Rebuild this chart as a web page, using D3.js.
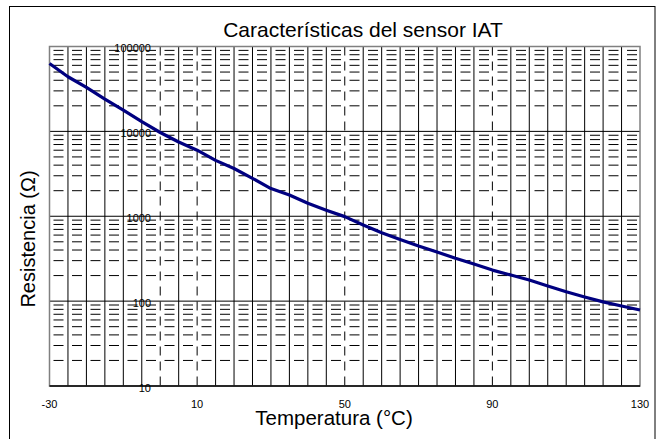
<!DOCTYPE html>
<html>
<head>
<meta charset="utf-8">
<script src="https://cdn.jsdelivr.net/npm/d3@7"></script>
<style>
  html, body { margin: 0; padding: 0; background: #fff; }
  svg { display: block; font-family: "Liberation Sans", Arial, sans-serif; }
</style>
</head>
<body>
<svg id="chart" width="662" height="439"></svg>
<script>
// ---- data ----
const temperatures = [-30, -25, -20, -15, -10, -5, 0, 5, 10, 15, 20, 25, 30, 35, 40, 45, 50, 55, 60, 65, 70, 75, 80, 85, 90, 95, 100, 105, 110, 115, 120, 125, 130];
const resistances  = [63000, 44000, 33000, 24000, 17800, 13000, 9700, 7500, 6000, 4550, 3650, 2800, 2120, 1780, 1420, 1180, 990, 790, 640, 532, 446, 379, 320, 274, 232, 203, 177, 151, 129, 112, 98, 87.5, 78.5];
const xTickLabels = [-30, 10, 50, 90, 130];
const yTickLabels = [10, 100, 1000, 10000, 100000];
const dashedTemps = [0, 10, 50, 90];
const chartTitle = "Características del sensor IAT";
const xTitle = "Temperatura (°C)";
const yTitle = "Resistencia (Ω)";

const svg = d3.select("#chart");
const pLeft = 49.5, pRight = 640, pTop = 46.5, pBottom = 386;

const x = d3.scaleLinear().domain([-30, 130]).range([pLeft, pRight]);
const y = d3.scaleLog().domain([10, 100000]).range([pBottom, pTop]);

// outer frame
svg.append("rect")
  .attr("x", 9.5).attr("y", 6.5).attr("width", 645.5).attr("height", 440)
  .attr("fill", "#fff").attr("stroke", "#000").attr("stroke-width", 1);

// title
svg.append("text").attr("x", 363).attr("y", 37).attr("text-anchor", "middle")
  .attr("font-size", 21).attr("fill", "#000").text(chartTitle);

const grid = svg.append("g");

// horizontal minor gridlines (dashed)
const minorVals = [];
for (let d = 10; d < 100000; d *= 10) for (let k = 2; k <= 9; k++) minorVals.push(d * k);
grid.selectAll("line.hmin").data(minorVals).enter().append("line")
  .attr("x1", pLeft).attr("x2", pRight)
  .attr("y1", d => y(d)).attr("y2", d => y(d))
  .attr("stroke", "#000").attr("stroke-width", 1)
  .attr("stroke-dasharray", "10,8.5").attr("stroke-dashoffset", -4);

// horizontal major gridlines
grid.selectAll("line.hmaj").data([100, 1000, 10000]).enter().append("line")
  .attr("x1", pLeft).attr("x2", pRight)
  .attr("y1", d => y(d)).attr("y2", d => y(d))
  .attr("stroke", "#000").attr("stroke-width", 1);

// vertical gridlines every 5 °C
const vVals = d3.range(-25, 130, 5);
grid.selectAll("line.v").data(vVals).enter().append("line")
  .attr("x1", d => x(d)).attr("x2", d => x(d))
  .attr("y1", pTop).attr("y2", pBottom)
  .attr("stroke", "#000").attr("stroke-width", 1)
  .attr("stroke-dasharray", d => dashedTemps.includes(d) ? "9,6" : null);

// plot border
svg.append("rect")
  .attr("x", pLeft).attr("y", pTop).attr("width", pRight - pLeft).attr("height", pBottom - pTop)
  .attr("fill", "none").attr("stroke", "#808080").attr("stroke-width", 1.5);
svg.append("line").attr("x1", pLeft).attr("x2", pRight).attr("y1", pBottom).attr("y2", pBottom)
  .attr("stroke", "#000").attr("stroke-width", 1.5);

// y tick labels inside plot
svg.selectAll("text.ylab").data(yTickLabels).enter().append("text")
  .attr("x", 151).attr("y", d => y(d) + 5.5)
  .attr("text-anchor", "end").attr("font-size", 11).attr("fill", "#000")
  .text(d => d);

// x tick labels
svg.selectAll("text.xlab").data(xTickLabels).enter().append("text")
  .attr("x", d => x(d)).attr("y", 407.5)
  .attr("text-anchor", "middle").attr("font-size", 11).attr("fill", "#000")
  .text(d => d);

// axis titles
svg.append("text").attr("x", 334).attr("y", 424.5).attr("text-anchor", "middle")
  .attr("font-size", 20.5).attr("fill", "#000").text(xTitle);
svg.append("text").attr("transform", "translate(35,239) rotate(-90)")
  .attr("text-anchor", "middle").attr("font-size", 20).attr("fill", "#000").text(yTitle);

// curve
const pts = temperatures.map((t, i) => [t, resistances[i]]);
svg.append("path").datum(pts)
  .attr("fill", "none").attr("stroke", "#000080").attr("stroke-width", 3.2)
  .attr("stroke-linejoin", "round")
  .attr("d", d3.line().x(d => x(d[0])).y(d => y(d[1])));
</script>
</body>
</html>
